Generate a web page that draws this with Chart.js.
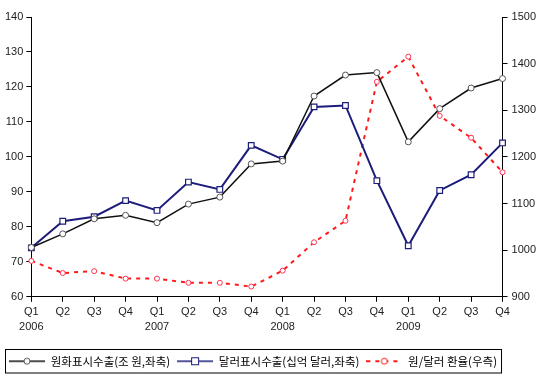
<!DOCTYPE html>
<html>
<head>
<meta charset="utf-8">
<script src="https://cdn.jsdelivr.net/npm/chart.js@4.4.1/dist/chart.umd.min.js"></script>
<style>
  html, body { margin: 0; padding: 0; background: #fff; }
  #wrap { width: 550px; height: 388px; }
</style>
</head>
<body>
<div id="wrap"><canvas id="chart"></canvas></div>
<script>
// quarters 2006 Q1 .. 2009 Q4
const quarters = ['Q1', 'Q2', 'Q3', 'Q4'];
const years = ['2006', '2007', '2008', '2009'];

// left axis: exports (원화 조 원 / 달러 십억 달러)
const wonExports = [74.1, 78.0, 82.3, 83.3, 81.2, 86.5, 88.5, 98.0,
                    98.8, 117.4, 123.4, 124.1, 104.3, 113.8, 119.7, 122.4];
const dollarExports = [74.0, 81.6, 82.9, 87.5, 84.7, 92.8, 90.7, 103.3,
                       99.3, 114.3, 114.7, 93.2, 74.6, 90.4, 94.9, 104.0];
// right axis: won/dollar rate
const exchangeRate = [977, 951, 955, 939, 939, 930, 930, 922,
                      956, 1017, 1063, 1361, 1415, 1288, 1241, 1167];

const leftTicks = [60, 70, 80, 90, 100, 110, 120, 130, 140];
const rightTicks = [900, 1000, 1100, 1200, 1300, 1400, 1500];

const seriesNames = ['원화표시수출(조 원,좌축)', '달러표시수출(십억 달러,좌축)', '원/달러 환율(우측)'];

const labels = [];
years.forEach(y => quarters.forEach((q, i) => labels.push(i === 0 ? [q, y] : [q, ''])));

// small legend swatch: line with a marker in the middle
function swatch(color, shape, dashed) {
    const c = document.createElement('canvas');
    c.width = 36; c.height = 10;
    const g = c.getContext('2d');
    g.strokeStyle = color;
    g.lineWidth = dashed ? 2 : 1.5;
    if (dashed) g.setLineDash([4, 5]);
    g.beginPath(); g.moveTo(0, 5); g.lineTo(36, 5); g.stroke();
    g.setLineDash([]);
    g.fillStyle = '#fff';
    g.lineWidth = 1;
    g.strokeStyle = shape === 'sq' ? color : (dashed ? color : '#555');
    if (shape === 'sq') {
        g.fillRect(14.5, 1.5, 7, 7); g.strokeRect(14.5, 1.5, 7, 7);
    } else {
        g.beginPath(); g.arc(18, 5, 3, 0, Math.PI * 2); g.fill(); g.stroke();
    }
    return c;
}

const swatches = [swatch('#111', 'c', false), swatch('#1c1c7a', 'sq', false), swatch('#ff1a1a', 'c', true)];

// border round the legend, like the original
const legendBox = {
    id: 'legendBox',
    afterDraw(chart) {
        const boxes = chart.legend.legendHitBoxes;
        if (!boxes || !boxes.length) return;
        const left = Math.min(...boxes.map(b => b.left));
        const right = Math.max(...boxes.map(b => b.left + b.width));
        const top = Math.min(...boxes.map(b => b.top));
        const bottom = Math.max(...boxes.map(b => b.top + b.height));
        const ctx = chart.ctx;
        ctx.save();
        ctx.strokeStyle = '#000';
        ctx.lineWidth = 1;
        ctx.strokeRect(Math.round(left) - 3.5, Math.round(top) - 6.5, right - left + 8, bottom - top + 12);
        ctx.restore();
    }
};

const tickFont = { family: '"Liberation Sans", Arial, sans-serif', size: 11, lineHeight: 1.35 };

new Chart(document.getElementById('chart'), {
    type: 'line',
    data: {
        labels: labels,
        datasets: [
            {
                label: seriesNames[0],
                data: wonExports,
                yAxisID: 'y',
                borderColor: '#111',
                borderWidth: 1.5,
                pointStyle: 'circle',
                pointRadius: 3,
                pointBorderWidth: 1,
                pointBorderColor: '#555',
                pointBackgroundColor: '#fff',
                tension: 0
            },
            {
                label: seriesNames[1],
                data: dollarExports,
                yAxisID: 'y',
                borderColor: '#1c1c7a',
                borderWidth: 2,
                pointStyle: 'rect',
                pointRadius: 4,
                pointBorderWidth: 1.2,
                pointBorderColor: '#1c1c7a',
                pointBackgroundColor: '#fff',
                tension: 0
            },
            {
                label: seriesNames[2],
                data: exchangeRate,
                yAxisID: 'y1',
                borderColor: '#ff1a1a',
                borderWidth: 2,
                borderDash: [4, 5],
                pointStyle: 'circle',
                pointRadius: 2.5,
                pointBorderWidth: 1,
                pointBorderColor: '#ff3355',
                pointBackgroundColor: '#fff',
                tension: 0
            }
        ]
    },
    options: {
        responsive: true,
        maintainAspectRatio: false,
        animation: false,
        layout: { padding: { left: 2, right: 10, top: 17, bottom: 11 } },
        scales: {
            x: {
                offset: false,
                afterFit: axis => { axis.height += 11; },
                grid: { display: true, drawOnChartArea: false, drawTicks: true, tickLength: 5, color: '#000' },
                border: { color: '#000', width: 1 },
                ticks: { font: tickFont, color: '#222', maxRotation: 0, autoSkip: false, padding: 3 }
            },
            y: {
                position: 'left',
                min: 60, max: 140,
                afterBuildTicks: axis => { axis.ticks = leftTicks.map(v => ({ value: v })); },
                grid: { display: true, drawOnChartArea: false, drawTicks: true, tickLength: 5, color: '#000' },
                border: { color: '#000', width: 1 },
                ticks: { font: tickFont, color: '#222', padding: 3 }
            },
            y1: {
                position: 'right',
                min: 900, max: 1500,
                afterBuildTicks: axis => { axis.ticks = rightTicks.map(v => ({ value: v })); },
                grid: { display: true, drawOnChartArea: false, drawTicks: true, tickLength: 5, color: '#000' },
                border: { color: '#000', width: 1 },
                ticks: { font: tickFont, color: '#222', padding: 4, callback: v => String(v) }
            }
        },
        plugins: {
            legend: {
                position: 'bottom',
                align: 'start',
                labels: {
                    usePointStyle: true,
                    pointStyleWidth: 36,
                    padding: 7,
                    font: { family: '"Noto Sans CJK KR", sans-serif', size: 11.5 },
                    color: '#333',
                    generateLabels: chart => chart.data.datasets.map((ds, i) => ({
                        text: ds.label,
                        pointStyle: swatches[i],
                        datasetIndex: i,
                        hidden: false,
                        lineWidth: 0,
                        strokeStyle: 'transparent',
                        fillStyle: 'transparent'
                    }))
                }
            },
            tooltip: { enabled: false }
        }
    },
    plugins: [legendBox]
});
</script>
</body>
</html>
